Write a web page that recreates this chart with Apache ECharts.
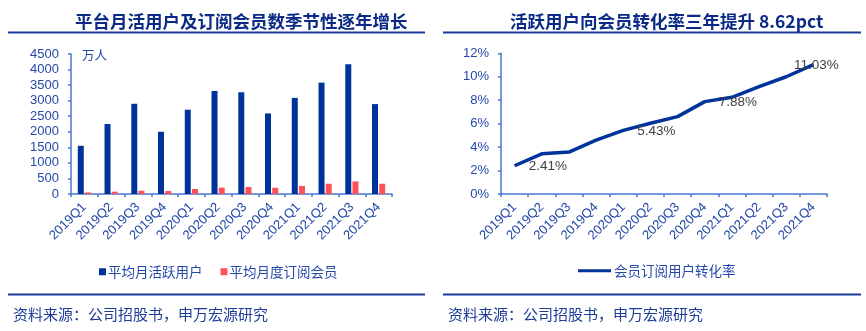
<!DOCTYPE html>
<html><head><meta charset="utf-8">
<script src="https://cdn.jsdelivr.net/npm/echarts@6/dist/echarts.min.js"></script>
<style>html,body{margin:0;padding:0;background:#fff}#c{width:866px;height:331px}</style>
</head><body><div id="c"></div>
<script>
var categories = ['2019Q1','2019Q2','2019Q3','2019Q4','2020Q1','2020Q2','2020Q3','2020Q4','2021Q1','2021Q2','2021Q3','2021Q4'];
var mauValues = [1550, 2250, 2900, 2000, 2710, 3310, 3270, 2590, 3090, 3580, 4170, 2890];
var subValues = [50, 75, 105, 95, 160, 205, 225, 200, 260, 330, 405, 330];
var convRate = [2.41, 3.43, 3.58, 4.6, 5.43, 6.03, 6.6, 7.88, 8.25, 9.15, 10.0, 11.03];
var leftTicks = [0, 4500, 500];
var rightTicks = [0, 12, 2];
var labeledIdx = [0, 4, 7, 11];

var LAT = '"Liberation Sans", Arial, "Noto Sans CJK SC", sans-serif';
var CJK = '"Noto Sans CJK SC", "Liberation Sans", sans-serif';
var axisBlue = '#4a78d2';
var txtBlue = '#2448a8';
var navy = '#0a2a86';

var lineData = convRate.map(function (v, i) {
  var item = { value: v };
  if (labeledIdx.indexOf(i) >= 0) {
    if (i === 11) {
      item.label = { show: true, position: 'inside', offset: [3, 1] };
    } else {
      item.label = { show: true, position: 'right', distance: 14, offset: [0, 1] };
    }
  }
  return item;
});

function xAx(gi) {
  return {
    type: 'category', gridIndex: gi, data: categories,
    axisLine: { lineStyle: { color: axisBlue, width: 1.5 } },
    axisTick: { show: true, length: 3, lineStyle: { color: axisBlue, width: 1.5 } },
    axisLabel: { rotate: 45, fontSize: 13, color: txtBlue, fontFamily: LAT, margin: 11, interval: 0 }
  };
}

var chart = echarts.init(document.getElementById('c'), null, { renderer: 'canvas' });
chart.setOption({
  animation: false,
  backgroundColor: '#fff',
  title: [
    { text: '平台月活用户及订阅会员数季节性逐年增长', left: 70, top: 8,
      textStyle: { fontFamily: CJK, fontSize: 17.5, fontWeight: 'bold', color: navy } },
    { text: '活跃用户向会员转化率三年提升 8.62pct', left: 505, top: 8,
      textStyle: { fontFamily: CJK, fontSize: 17.5, fontWeight: 'bold', color: navy } },
    { text: '资料来源：公司招股书，申万宏源研究', left: 8, top: 302,
      textStyle: { fontFamily: CJK, fontSize: 15, fontWeight: 'normal', color: '#1c3c98' } },
    { text: '资料来源：公司招股书，申万宏源研究', left: 443, top: 302,
      textStyle: { fontFamily: CJK, fontSize: 15, fontWeight: 'normal', color: '#1c3c98' } }
  ],
  graphic: [
    { type: 'line', shape: { x1: 8, y1: 32.5, x2: 425, y2: 32.5 }, style: { stroke: '#1a3c9c', lineWidth: 2 } },
    { type: 'line', shape: { x1: 443, y1: 32.5, x2: 861, y2: 32.5 }, style: { stroke: '#1a3c9c', lineWidth: 2 } },
    { type: 'line', shape: { x1: 8, y1: 294.5, x2: 425, y2: 294.5 }, style: { stroke: '#1a3c9c', lineWidth: 2 } },
    { type: 'line', shape: { x1: 443, y1: 294.5, x2: 861, y2: 294.5 }, style: { stroke: '#1a3c9c', lineWidth: 2 } }
  ],
  legend: [
    { data: ['平均月活跃用户', '平均月度订阅会员'], left: 94, top: 260, icon: 'rect',
      itemWidth: 7, itemHeight: 7, itemGap: 18,
      textStyle: { fontFamily: CJK, fontSize: 13.5, color: txtBlue, padding: [0, 0, 0, -3] } },
    { data: ['会员订阅用户转化率'], left: 573, top: 259, icon: 'rect',
      itemWidth: 33, itemHeight: 3,
      textStyle: { fontFamily: CJK, fontSize: 13.5, color: txtBlue, padding: [0, 0, 0, -2] } }
  ],
  grid: [
    { left: 71, top: 54, width: 321, height: 140 },
    { left: 501, top: 53.3, width: 326, height: 140.7 }
  ],
  xAxis: [xAx(0), xAx(1)],
  yAxis: [
    { type: 'value', gridIndex: 0, min: leftTicks[0], max: leftTicks[1], interval: leftTicks[2],
      name: '万人', nameLocation: 'end', nameGap: -1,
      nameTextStyle: { align: 'left', verticalAlign: 'middle', fontFamily: CJK, fontSize: 12.5, color: txtBlue, padding: [0, 0, 0, 11] },
      splitLine: { show: false },
      axisLine: { show: true, lineStyle: { color: axisBlue, width: 1.5 } },
      axisTick: { show: true, length: 3, lineStyle: { color: axisBlue, width: 1.5 } },
      axisLabel: { fontSize: 13, color: txtBlue, fontFamily: LAT, margin: 12,
        formatter: function (v) { return String(v); } } },
    { type: 'value', gridIndex: 1, min: rightTicks[0], max: rightTicks[1], interval: rightTicks[2],
      splitLine: { show: false },
      axisLine: { show: true, lineStyle: { color: axisBlue, width: 1.5 } },
      axisTick: { show: true, length: 3, lineStyle: { color: axisBlue, width: 1.5 } },
      axisLabel: { fontSize: 13, color: txtBlue, fontFamily: LAT, margin: 12,
        formatter: function (v) { return v + '%'; } } }
  ],
  series: [
    { name: '平均月活跃用户', type: 'bar', xAxisIndex: 0, yAxisIndex: 0, data: mauValues,
      barWidth: 6, barGap: '20%', itemStyle: { color: '#003399' } },
    { name: '平均月度订阅会员', type: 'bar', xAxisIndex: 0, yAxisIndex: 0, data: subValues,
      barWidth: 6, itemStyle: { color: '#ff5258' } },
    { name: '会员订阅用户转化率', type: 'line', xAxisIndex: 1, yAxisIndex: 1, data: lineData,
      symbol: 'circle', symbolSize: 0.1, showSymbol: true, smooth: false,
      lineStyle: { color: '#00339c', width: 3.5 }, itemStyle: { color: '#00339c' },
      label: { show: false, fontFamily: LAT, fontSize: 13.5, color: '#404040',
        formatter: function (p) { return p.value.toFixed(2) + '%'; } } }
  ]
});
</script></body></html>
